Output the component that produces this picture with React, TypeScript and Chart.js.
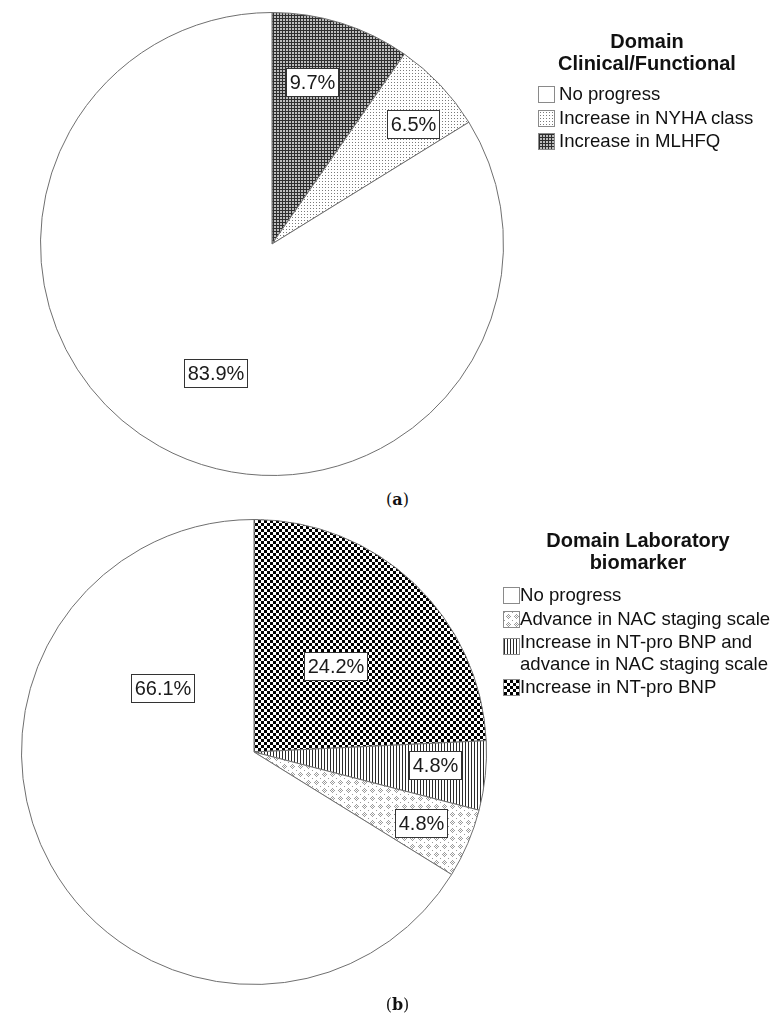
import React, { useEffect, useRef, useMemo } from "react";
import { Chart, registerables } from "chart.js";
Chart.register(...registerables);

// ---------- Panel (a) ----------
const titleA = ["Domain", "Clinical/Functional"];
const catsA = ["No progress", "Increase in NYHA class", "Increase in MLHFQ"];
const valsA = [83.9, 6.5, 9.7];
const patsA = ["none", "dots", "grid"];
const captionA = "a";

// ---------- Panel (b) ----------
const titleB = ["Domain Laboratory", "biomarker"];
const catsB = [
  "No progress",
  "Advance in NAC staging scale",
  "Increase in NT-pro BNP and\nadvance in NAC staging scale",
  "Increase in NT-pro BNP",
];
const valsB = [66.1, 4.8, 4.8, 24.2];
const patsB = ["none", "cross", "vlines", "checker"];
const captionB = "b";

// label placement style (legend order): angle offset (deg) and radius fraction
const labelStyleA = { da: [-5.4, 3, -3.7], frac: [0.61, 0.8, 0.72] };
const labelStyleB = { da: [64, 0, -1.6, 0], frac: [0.48, 0.78, 0.78, 0.51] };

const SANS = "'Liberation Sans', Arial, Helvetica, sans-serif";

function makeTile(kind: string): HTMLCanvasElement {
  const c = document.createElement("canvas");
  const g = c.getContext("2d")!;
  const fill = (col: string, x: number, y: number, w: number, h: number) => {
    g.fillStyle = col;
    g.fillRect(x, y, w, h);
  };
  switch (kind) {
    case "dots":
      c.width = c.height = 3;
      fill("#ffffff", 0, 0, 3, 3);
      fill("#7a7a7a", 1, 1, 1, 1);
      break;
    case "grid":
      c.width = c.height = 3;
      fill("#bdbdbd", 0, 0, 3, 3);
      fill("#2e2e2e", 0, 0, 3, 1);
      fill("#2e2e2e", 0, 0, 1, 3);
      break;
    case "checker":
      c.width = c.height = 6;
      fill("#ffffff", 0, 0, 6, 6);
      fill("#000000", 0, 0, 3, 3);
      fill("#000000", 3, 3, 3, 3);
      break;
    case "vlines":
      c.width = c.height = 3;
      fill("#ffffff", 0, 0, 3, 3);
      fill("#2a2a2a", 0, 0, 1, 3);
      break;
    case "cross": {
      c.width = c.height = 8;
      fill("#ffffff", 0, 0, 8, 8);
      const col = "#9a9a9a";
      const pts = [
        [4, 2], [3, 3], [5, 3], [2, 4], [4, 4], [6, 4], [3, 5], [5, 5], [4, 6], [0, 0],
      ];
      pts.forEach(([x, y]) => fill(col, x, y, 1, 1));
      break;
    }
    default:
      c.width = c.height = 1;
      fill("#ffffff", 0, 0, 1, 1);
  }
  return c;
}

function makeLabelPlugin(da: number[], frac: number[]) {
  return {
    id: "boxLabels",
    afterDatasetsDraw(chart: any) {
      const ctx = chart.ctx as CanvasRenderingContext2D;
      const meta = chart.getDatasetMeta(0);
      const data = chart.data.datasets[0].data as number[];
      meta.data.forEach((arc: any, i: number) => {
        const p = arc.getProps(["x", "y", "startAngle", "endAngle", "outerRadius"], true);
        const mid = (p.startAngle + p.endAngle) / 2 + (da[i] * Math.PI) / 180;
        const r = p.outerRadius * frac[i];
        const lx = p.x + Math.cos(mid) * r;
        const ly = p.y + Math.sin(mid) * r;
        const text = data[i].toFixed(1) + "%";
        ctx.save();
        ctx.font = `20px ${SANS}`;
        const w = Math.round(ctx.measureText(text).width + 6);
        const h = 28;
        const bx = Math.round(lx - w / 2) + 0.5;
        const by = Math.round(ly - h / 2) + 0.5;
        ctx.fillStyle = "#ffffff";
        ctx.fillRect(bx, by, w, h);
        ctx.strokeStyle = "#333333";
        ctx.lineWidth = 1;
        ctx.strokeRect(bx, by, w, h);
        ctx.fillStyle = "#1a1a1a";
        ctx.textAlign = "center";
        ctx.textBaseline = "middle";
        ctx.fillText(text, bx + w / 2, by + h / 2 + 1);
        ctx.restore();
      });
    },
  };
}

type PanelProps = {
  top: number;
  height: number;
  padding: { left: number; right: number; top: number; bottom: number };
  cats: string[];
  vals: number[];
  pats: string[];
  style: { da: number[]; frac: number[] };
};

function PiePanel({ top, height, padding, cats, vals, pats, style }: PanelProps) {
  const ref = useRef<HTMLCanvasElement>(null);
  useEffect(() => {
    const canvas = ref.current!;
    const ctx = canvas.getContext("2d")!;
    // SPSS draws counter-clockwise in legend order; Chart.js goes clockwise.
    const order = vals.map((_, i) => i).reverse();
    const bg = order.map((i) => ctx.createPattern(makeTile(pats[i]), "repeat")!);
    const chart = new Chart(canvas, {
      type: "pie",
      data: {
        labels: order.map((i) => cats[i]),
        datasets: [
          {
            data: order.map((i) => vals[i]),
            backgroundColor: bg as any,
            borderColor: "#6f6f6f",
            borderWidth: 1,
          },
        ],
      },
      options: {
        responsive: false,
        animation: false,
        layout: { padding },
        plugins: { legend: { display: false }, tooltip: { enabled: false } },
      },
      plugins: [makeLabelPlugin(order.map((i) => style.da[i]), order.map((i) => style.frac[i]))],
    });
    return () => chart.destroy();
  }, []);
  return (
    <canvas
      ref={ref}
      width={771}
      height={height}
      style={{ position: "absolute", left: 0, top, width: 771, height }}
    />
  );
}

type LegendProps = {
  title: string[];
  titleLeft: number;
  titleWidth: number;
  titleTop: number;
  swatchLeft: number;
  textLeft: number;
  itemsTop: number;
  cats: string[];
  pats: string[];
};

function Legend({ title, titleLeft, titleWidth, titleTop, swatchLeft, textLeft, itemsTop, cats, pats }: LegendProps) {
  const urls = useMemo(() => pats.map((p) => makeTile(p).toDataURL()), []);
  let y = itemsTop;
  const rows = cats.map((c, i) => {
    const lines = c.split("\n");
    const rowTop = y;
    y += lines.length * 21.5 + 2;
    return (
      <div key={i}>
        <div
          style={{
            position: "absolute",
            left: swatchLeft,
            top: rowTop + 3 + (lines.length > 1 ? 4 : 0),
            width: 15,
            height: 15,
            border: "1px solid #8a8a8a",
            backgroundImage: `url(${urls[i]})`,
            backgroundColor: "#fff",
          }}
        />
        <div
          style={{
            position: "absolute",
            left: textLeft,
            top: rowTop,
            font: `18.6px ${SANS}`,
            lineHeight: "21.5px",
            whiteSpace: "pre",
            color: "#111",
          }}
        >
          {c}
        </div>
      </div>
    );
  });
  return (
    <>
      <div
        style={{
          position: "absolute",
          left: titleLeft,
          top: titleTop,
          width: titleWidth,
          textAlign: "center",
          font: `bold 20px ${SANS}`,
          lineHeight: "21.5px",
          color: "#111",
        }}
      >
        {title.map((t, i) => (
          <div key={i}>{t}</div>
        ))}
      </div>
      {rows}
    </>
  );
}

function Caption({ letter, top }: { letter: string; top: number }) {
  return (
    <div
      style={{
        position: "absolute",
        left: 0,
        width: 795,
        top,
        textAlign: "center",
        font: "16px 'DejaVu Serif', 'Liberation Serif', serif",
        color: "#111",
      }}
    >
      (<b>{letter}</b>)
    </div>
  );
}

export default function App() {
  return (
    <div
      style={{
        position: "absolute",
        left: 0,
        top: 0,
        width: 771,
        height: 1019,
        background: "#fff",
        overflow: "hidden",
      }}
    >
      <PiePanel
        top={0}
        height={490}
        padding={{ left: 40, right: 267, top: 12, bottom: 14 }}
        cats={catsA}
        vals={valsA}
        pats={patsA}
        style={labelStyleA}
      />
      <Legend
        title={titleA}
        titleLeft={520}
        titleWidth={254}
        titleTop={31}
        swatchLeft={538}
        textLeft={559}
        itemsTop={83}
        cats={catsA}
        pats={patsA}
      />
      <Caption letter={captionA} top={490} />
      <PiePanel
        top={490}
        height={529}
        padding={{ left: 21, right: 284, top: 29, bottom: 34 }}
        cats={catsB}
        vals={valsB}
        pats={patsB}
        style={labelStyleB}
      />
      <Legend
        title={titleB}
        titleLeft={510}
        titleWidth={256}
        titleTop={530}
        swatchLeft={503}
        textLeft={520}
        itemsTop={584}
        cats={catsB}
        pats={patsB}
      />
      <Caption letter={captionB} top={995} />
    </div>
  );
}
